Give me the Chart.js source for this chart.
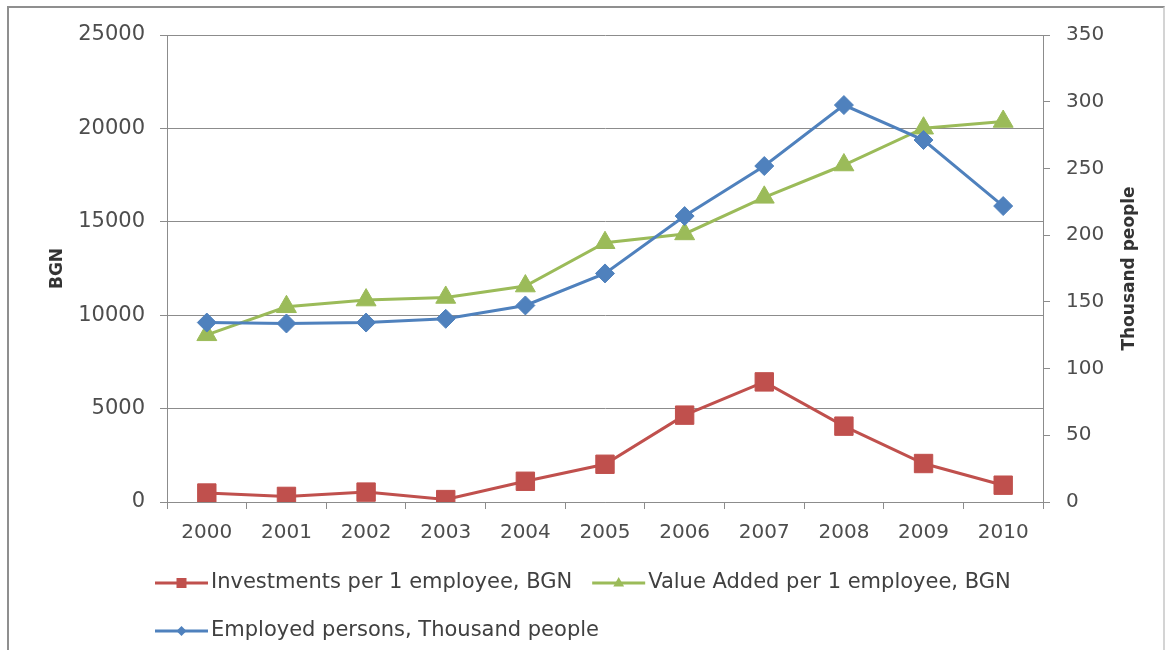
<!DOCTYPE html>
<html>
<head>
<meta charset="utf-8">
<script src="https://cdn.jsdelivr.net/npm/chart.js@4.4.1/dist/chart.umd.min.js"></script>
<style>
    html, body { margin: 0; padding: 0; background: #fff; }
    #wrap { position: relative; width: 1168px; height: 650px; overflow: hidden; }
    #wrap canvas { position: absolute; left: 0; top: 0; }
    #frame {
        position: absolute; left: 7px; top: 6px; width: 1158px; height: 680px;
        border: 2px solid #8f8f8f; border-right-color: #d4d4d4;
        box-sizing: border-box; pointer-events: none;
    }
</style>
</head>
<body>
<div id="wrap">
    <canvas id="chart" width="1168" height="650"></canvas>
    <div id="frame"></div>
</div>
<script>
// data
const years = ['2000', '2001', '2002', '2003', '2004', '2005', '2006', '2007', '2008', '2009', '2010'];
const investments = [480, 300, 530, 130, 1110, 2020, 4650, 6430, 4060, 2060, 900];
const valueAdded = [8950, 10450, 10810, 10950, 11560, 13880, 14350, 16310, 18040, 20010, 20370];
const employed = [134.5, 133.8, 134.5, 137.3, 147.3, 171.3, 214.3, 251.8, 297.5, 271.3, 221.8];
const bgnTicks = [0, 5000, 10000, 15000, 20000, 25000];
const peopleTicks = [0, 50, 100, 150, 200, 250, 300, 350];

const FONT = 'DejaVu Sans';
const gridColor = '#8c8c8c';
const tickColor = '#4d4d4d';

// small legend marker, same shapes as the points
function drawMarker(ctx, style, x, y, r) {
    ctx.beginPath();
    if (style === 'rect') {
        ctx.rect(x - r, y - r, 2 * r, 2 * r);
    } else if (style === 'triangle') {
        ctx.moveTo(x, y - r);
        ctx.lineTo(x + r * 0.9, y + r * 0.6);
        ctx.lineTo(x - r * 0.9, y + r * 0.6);
        ctx.closePath();
    } else {
        ctx.moveTo(x - r, y);
        ctx.lineTo(x, y - r);
        ctx.lineTo(x + r, y);
        ctx.lineTo(x, y + r);
        ctx.closePath();
    }
    ctx.fill();
}

// Excel-like legend: line + marker, left aligned, wraps to a second row
const excelLegend = {
    id: 'excelLegend',
    afterDraw(chart) {
        const ctx = chart.ctx;
        const startX = 155;
        let x = startX, y = 583;
        ctx.save();
        ctx.font = '21px "' + FONT + '"';
        ctx.textBaseline = 'middle';
        chart.data.datasets.forEach(ds => {
            const w = 56 + ctx.measureText(ds.label).width;
            if (x > startX && x + w > 1043) {
                x = startX;
                y += 48;
            }
            ctx.strokeStyle = ds.borderColor;
            ctx.fillStyle = ds.borderColor;
            ctx.lineWidth = 3;
            ctx.beginPath();
            ctx.moveTo(x, y);
            ctx.lineTo(x + 53, y);
            ctx.stroke();
            drawMarker(ctx, ds.pointStyle, x + 26.5, y, ds.legendSize);
            ctx.fillStyle = '#404040';
            ctx.fillText(ds.label, x + 56, y);
            x += w + 20;
        });
        ctx.restore();
    }
};

// right axis title reads bottom-to-top like the left one
const rightTitle = {
    id: 'rightTitle',
    afterDraw(chart) {
        const ctx = chart.ctx;
        const area = chart.chartArea;
        ctx.save();
        ctx.translate(1130, (area.top + area.bottom) / 2);
        ctx.rotate(-Math.PI / 2);
        ctx.font = 'bold 17px "' + FONT + '"';
        ctx.fillStyle = '#333';
        ctx.textAlign = 'center';
        ctx.textBaseline = 'middle';
        ctx.fillText('Thousand people', 0, 0);
        ctx.restore();
    }
};

const chart = new Chart(document.getElementById('chart'), {
    type: 'line',
    data: {
        labels: years,
        datasets: [{
            label: 'Investments per 1 employee, BGN',
            data: investments,
            yAxisID: 'y',
            borderColor: '#c0504d',
            backgroundColor: '#c0504d',
            borderWidth: 3,
            pointStyle: 'rect',
            pointRadius: 13,
            pointBorderWidth: 1,
            legendSize: 5,
            order: 2
        }, {
            label: 'Value Added per 1 employee, BGN',
            data: valueAdded,
            yAxisID: 'y',
            borderColor: '#9bbb59',
            backgroundColor: '#9bbb59',
            borderWidth: 3,
            pointStyle: 'triangle',
            pointRadius: 11.5,
            pointBorderWidth: 1,
            legendSize: 6,
            order: 1
        }, {
            label: 'Employed persons, Thousand people',
            data: employed,
            yAxisID: 'y1',
            borderColor: '#4f81bd',
            backgroundColor: '#4f81bd',
            borderWidth: 3,
            pointStyle: 'rectRot',
            pointRadius: 9.5,
            pointBorderWidth: 1,
            legendSize: 5,
            order: 0
        }]
    },
    options: {
        responsive: false,
        animation: false,
        layout: { padding: { left: 10, right: 0, top: 35, bottom: 98 } },
        plugins: {
            legend: { display: false },
            tooltip: { enabled: false }
        },
        scales: {
            x: {
                offset: true,
                grid: { offset: true, drawOnChartArea: false, drawTicks: true, tickLength: 7, color: gridColor },
                border: { color: gridColor },
                ticks: { font: { family: FONT, size: 20 }, color: tickColor, padding: 12, maxRotation: 0 },
                afterFit: s => { s.height = 50; }
            },
            y: {
                position: 'left',
                min: 0,
                max: 25000,
                afterBuildTicks: s => { s.ticks = bgnTicks.map(v => ({ value: v })); },
                grid: { color: gridColor, tickLength: 7 },
                border: { color: gridColor },
                ticks: { font: { family: FONT, size: 21 }, color: tickColor, padding: 15, callback: v => String(v) },
                title: {
                    display: true, text: 'BGN', color: '#333',
                    font: { family: FONT, size: 17, weight: 'bold' },
                    padding: { top: 37, bottom: 0 }
                },
                afterFit: s => { s.width = 157; }
            },
            y1: {
                position: 'right',
                min: 0,
                max: 350,
                afterBuildTicks: s => { s.ticks = peopleTicks.map(v => ({ value: v })); },
                grid: { drawOnChartArea: false, tickLength: 7, color: gridColor },
                border: { color: gridColor },
                ticks: { font: { family: FONT, size: 20 }, color: tickColor, padding: 16, callback: v => String(v) },
                afterFit: s => { s.width = 125; }
            }
        }
    },
    plugins: [excelLegend, rightTitle]
});
</script>
</body>
</html>
